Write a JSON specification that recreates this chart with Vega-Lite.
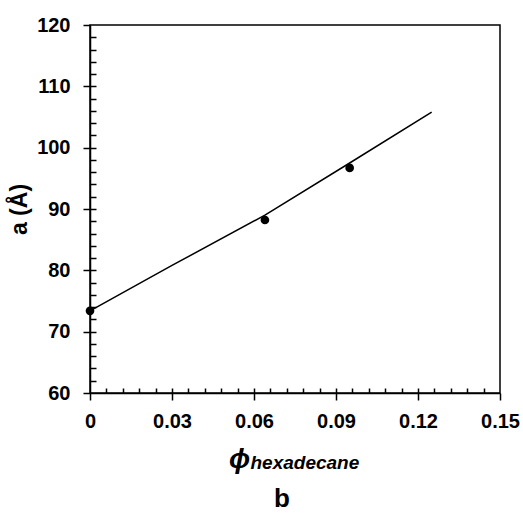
{
  "$schema": "https://vega.github.io/schema/vega-lite/v6.json",
  "width": 410,
  "height": 368,
  "autosize": {"type": "none"},
  "padding": {"left": 90, "top": 25, "right": 23, "bottom": 123},
  "background": "white",
  "config": {
    "view": {"stroke": "black", "strokeWidth": 1.5},
    "font": "Liberation Sans",
    "axis": {"grid": false, "domainColor": "black", "domainWidth": 1.5, "tickColor": "black", "tickWidth": 1.5, "labelColor": "black", "titleColor": "black"}
  },
  "title": {"text": "b", "orient": "bottom", "fontSize": 26, "fontWeight": "bold", "font": "Liberation Sans", "color": "black", "dx": -13, "offset": 13},
  "datasets": {
    "points": [
      {"phi": 0.0, "a": 73.4},
      {"phi": 0.064, "a": 88.2},
      {"phi": 0.095, "a": 96.7}
    ],
    "fit": [
      {"phi": 0.0, "a": 73.4},
      {"phi": 0.03, "a": 80.8},
      {"phi": 0.064, "a": 89.0},
      {"phi": 0.095, "a": 97.5},
      {"phi": 0.125, "a": 105.8}
    ]
  },
  "layer": [
    {
      "data": {"name": "points"},
      "mark": {"type": "point", "filled": true, "color": "black", "size": 75, "opacity": 1, "clip": false},
      "encoding": {
        "x": {"field": "phi", "type": "quantitative",
          "scale": {"domain": [0, 0.15], "nice": false, "zero": false},
          "axis": {"orient": "bottom", "values": [0, 0.03, 0.06, 0.09, 0.12, 0.15], "format": "~g", "tickSize": 7, "labelPadding": 11, "labelFontSize": 20, "labelFontWeight": "bold", "labelFlush": false, "labelOverlap": false,
            "title": "ϕ", "titleFontSize": 28, "titleFontWeight": "bold", "titleFontStyle": "italic", "titleAlign": "center", "titleBaseline": "alphabetic", "titleX": 149, "titleY": 74}},
        "y": {"field": "a", "type": "quantitative",
          "scale": {"domain": [60, 120], "nice": false, "zero": false},
          "axis": {"orient": "left", "values": [60, 70, 80, 90, 100, 110, 120], "tickSize": 7, "labelPadding": 13, "labelFontSize": 20, "labelFontWeight": "bold",
            "title": "a (Å)", "titleFontSize": 23, "titleFontWeight": "bold", "titlePadding": 5}}
      }
    },
    {
      "data": {"name": "fit"},
      "mark": {"type": "line", "color": "black", "strokeWidth": 1.5},
      "encoding": {
        "x": {"field": "phi", "type": "quantitative",
          "axis": {"orient": "bottom", "values": [0.006, 0.012, 0.018, 0.024, 0.03, 0.036, 0.042, 0.048, 0.054, 0.06, 0.066, 0.072, 0.078, 0.084, 0.09, 0.096, 0.102, 0.108, 0.114, 0.12, 0.126, 0.132, 0.138, 0.144], "tickSize": -5, "labels": false, "domain": false,
            "title": "hexadecane", "titleFontSize": 19, "titleFontWeight": "bold", "titleFontStyle": "italic", "titleAlign": "left", "titleBaseline": "alphabetic", "titleX": 160, "titleY": 75}},
        "y": {"field": "a", "type": "quantitative",
          "axis": {"orient": "left", "values": [62, 64, 66, 68, 70, 72, 74, 76, 78, 80, 82, 84, 86, 88, 90, 92, 94, 96, 98, 100, 102, 104, 106, 108, 110, 112, 114, 116, 118], "tickSize": -6, "labels": false, "domain": false, "title": null}}
      }
    }
  ],
  "resolve": {"axis": {"x": "independent", "y": "independent"}}
}
